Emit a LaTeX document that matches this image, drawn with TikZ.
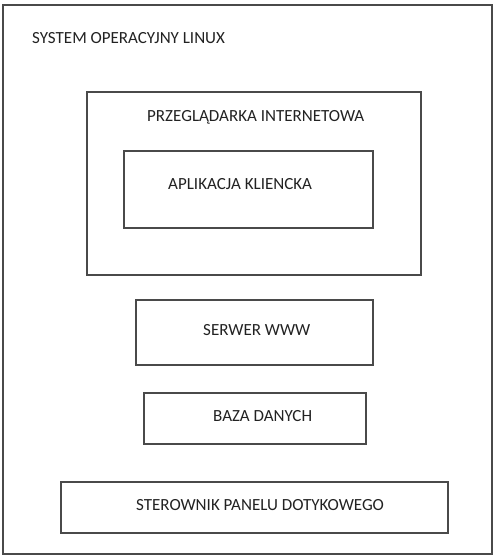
\documentclass[tikz,border=0pt]{standalone}
\usepackage{fontspec}
\setmainfont{Carlito}
\definecolor{boxline}{HTML}{4A4A4A}
\definecolor{txt}{HTML}{222222}
\begin{document}
\begin{tikzpicture}[x=1pt,y=-1pt,
  frame/.style={draw=boxline,line width=1.2pt},
  lbl/.style={anchor=west,inner sep=0pt,font=\fontsize{17}{19}\selectfont,text=txt}]
\useasboundingbox (0,0) rectangle (495,559);
\fill[white] (0,0) rectangle (495,559);
\draw[frame] (3,5) rectangle (492,554);
\draw[frame] (87,92) rectangle (421,275);
\draw[frame] (124,151) rectangle (373,228);
\draw[frame] (136,300) rectangle (373,365);
\draw[frame] (144,393) rectangle (366,444);
\draw[frame] (61,482) rectangle (448,533);
\node[lbl] (tos) at (32,38) {SYSTEM OPERACYJNY LINUX};
\node[lbl] (tbr) at (147,117) {PRZEGLĄDARKA INTERNETOWA};
\node[lbl] (tap) at (168,184) {APLIKACJA KLIENCKA};
\node[lbl] (tsw) at (203,330) {SERWER WWW};
\node[lbl] (tdb) at (213,416) {BAZA DANYCH};
\node[lbl] (tst) at (136,505) {STEROWNIK PANELU DOTYKOWEGO};
\end{tikzpicture}
\end{document}
